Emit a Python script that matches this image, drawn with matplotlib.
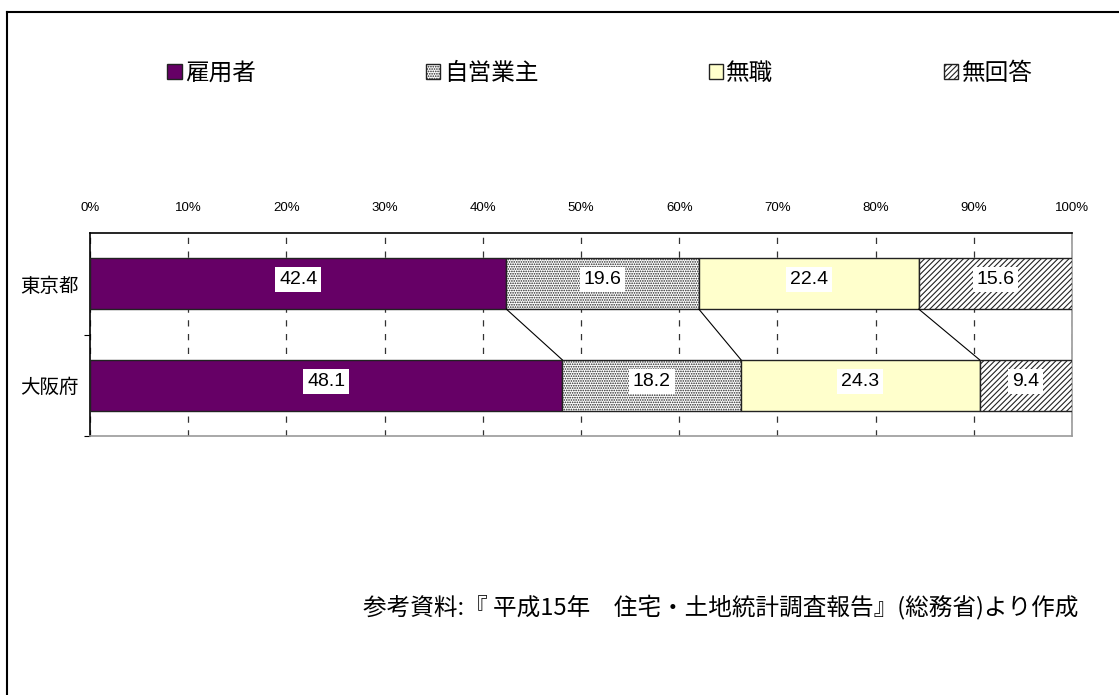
import matplotlib
matplotlib.use('Agg')
import matplotlib.pyplot as plt
from matplotlib.patches import Patch
from matplotlib.lines import Line2D
import numpy as np

plt.rcParams['font.family'] = ['Noto Sans CJK JP', 'DejaVu Sans']
plt.rcParams['hatch.linewidth'] = 0.8

regions = ['東京都', '大阪府']
groups = ['雇用者', '自営業主', '無職', '無回答']
tokyo = [42.4, 19.6, 22.4, 15.6]
osaka = [48.1, 18.2, 24.3, 9.4]
xticks = [0, 10, 20, 30, 40, 50, 60, 70, 80, 90, 100]
source = '参考資料:『 平成15年　住宅・土地統計調査報告』(総務省)より作成'

colors = ['#660066', 'white', '#ffffcc', 'white']
hatches = [None, '.......', None, '//////']

W, H = 1119, 695
fig = plt.figure(figsize=(W / 100, H / 100), dpi=100)
ax = fig.add_axes([90 / W, 1 - 436 / H, (1072 - 90) / W, (436 - 233) / H])

data = np.array([tokyo, osaka])
cum = np.cumsum(data, axis=1)
starts = cum - data
bar_h = 0.5

for j, name in enumerate(groups):
    ax.barh(range(len(regions)), data[:, j], left=starts[:, j], height=bar_h,
            color=colors[j], hatch=hatches[j], edgecolor='#222222',
            linewidth=1.0, label=name, zorder=3)
    for i in range(len(regions)):
        ax.text(starts[i, j] + data[i, j] / 2, i - 0.04, f'{data[i, j]:.1f}',
                ha='center', va='center', fontsize=14, family='Liberation Sans',
                bbox=dict(boxstyle='square,pad=0.2', fc='white', ec='none'),
                zorder=5)

# connector lines between the two bars
for k in range(len(groups) - 1):
    ax.plot([cum[0, k], cum[1, k]], [bar_h / 2, 1 - bar_h / 2],
            color='black', linewidth=0.8, zorder=4)

ax.set_xlim(0, 100)
ax.set_ylim(1.5, -0.5)
ax.set_xticks(xticks)
ax.set_xticklabels([f'{v}%' for v in xticks], family='Liberation Sans', fontsize=9.5)
ax.xaxis.tick_top()
ax.tick_params(axis='x', length=0, pad=14)
ax.set_yticks(range(len(regions)))
ax.set_yticklabels(regions, fontsize=14)
ax.set_yticks([0.5, 1.5], minor=True)
ax.tick_params(axis='y', which='major', length=0, pad=8)
ax.tick_params(axis='y', which='minor', length=4, width=0.8, color='black')

ax.grid(axis='x', color='#333333', linestyle=(0, (5, 6)), linewidth=0.9, zorder=1)
ax.set_axisbelow(True)
for side in ['left', 'top']:
    ax.spines[side].set_color('black')
    ax.spines[side].set_linewidth(1.2)
for side in ['right', 'bottom']:
    ax.spines[side].set_color('#999999')
    ax.spines[side].set_linewidth(1.2)

handles = [Patch(facecolor=colors[j], hatch=hatches[j], edgecolor='#222222',
                 linewidth=1.0) for j in range(len(groups))]
fig.legend(handles, groups, loc='lower left',
           bbox_to_anchor=(158 / W, 1 - 94 / H, (1042 - 158) / W, 0.05),
           mode='expand', ncol=4, frameon=False, fontsize=17,
           handlelength=0.6, handleheight=0.6, handletextpad=0.15,
           borderaxespad=0)

fig.text(1078 / W, 1 - 607 / H, source, ha='right', va='center', fontsize=17)

# outer frame (left and top edges)
fig.add_artist(Line2D([7 / W, 7 / W], [0, 1 - 12 / H], transform=fig.transFigure,
                      color='black', linewidth=1.5))
fig.add_artist(Line2D([7 / W, 1], [1 - 12 / H, 1 - 12 / H], transform=fig.transFigure,
                      color='black', linewidth=1.5))

fig.savefig('out.png', dpi=100, facecolor='white')
